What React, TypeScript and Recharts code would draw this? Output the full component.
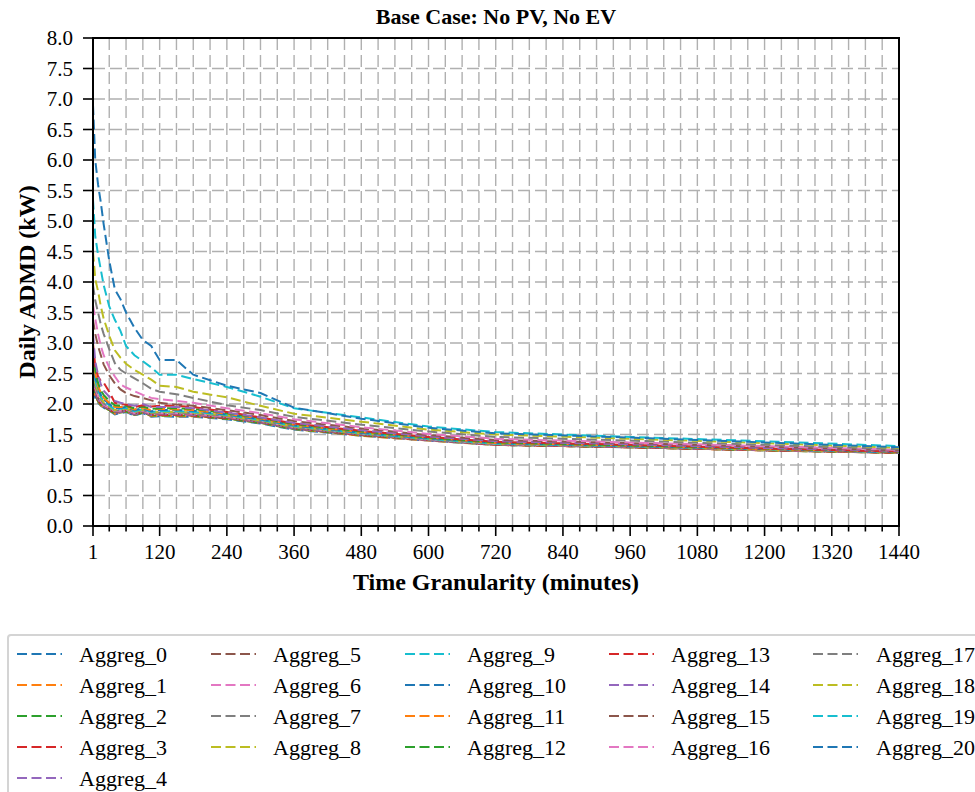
import React from "react";
import { LineChart, Line, XAxis, YAxis, CartesianGrid, ReferenceArea } from "recharts";

const minutes = [1, 5, 10, 15, 20, 30, 40, 50, 60, 75, 90, 105, 120, 150, 180, 240, 300, 360, 480, 600, 720, 960, 1200, 1440];

const aggreg0 = [2.25, 2.1, 2.02, 1.97, 1.94, 1.89, 1.83, 1.85, 1.87, 1.81, 1.85, 1.79, 1.8, 1.79, 1.79, 1.75, 1.68, 1.58, 1.48, 1.4, 1.33, 1.29, 1.24, 1.2];
const aggreg1 = [2.3, 2.12, 2.04, 1.98, 1.95, 1.9, 1.84, 1.86, 1.88, 1.82, 1.86, 1.8, 1.81, 1.8, 1.8, 1.76, 1.69, 1.59, 1.48, 1.4, 1.33, 1.29, 1.24, 1.2];
const aggreg2 = [2.34, 2.14, 2.05, 1.99, 1.95, 1.9, 1.85, 1.86, 1.88, 1.82, 1.86, 1.81, 1.81, 1.81, 1.81, 1.76, 1.69, 1.59, 1.49, 1.41, 1.33, 1.29, 1.24, 1.2];
const aggreg3 = [2.38, 2.17, 2.07, 2.0, 1.96, 1.91, 1.85, 1.87, 1.89, 1.83, 1.87, 1.82, 1.82, 1.82, 1.81, 1.77, 1.7, 1.6, 1.49, 1.41, 1.33, 1.29, 1.24, 1.2];
const aggreg4 = [2.42, 2.2, 2.08, 2.01, 1.97, 1.92, 1.86, 1.87, 1.89, 1.83, 1.87, 1.82, 1.83, 1.83, 1.82, 1.78, 1.7, 1.6, 1.5, 1.41, 1.34, 1.3, 1.25, 1.21];
const aggreg5 = [2.46, 2.22, 2.1, 2.03, 1.98, 1.93, 1.87, 1.88, 1.9, 1.84, 1.88, 1.83, 1.84, 1.84, 1.83, 1.78, 1.71, 1.61, 1.5, 1.42, 1.34, 1.3, 1.25, 1.21];
const aggreg6 = [2.5, 2.26, 2.13, 2.05, 1.99, 1.94, 1.88, 1.89, 1.91, 1.85, 1.89, 1.84, 1.85, 1.85, 1.84, 1.79, 1.72, 1.62, 1.51, 1.42, 1.34, 1.3, 1.25, 1.21];
const aggreg7 = [2.56, 2.3, 2.16, 2.07, 2.01, 1.95, 1.89, 1.9, 1.92, 1.86, 1.9, 1.85, 1.86, 1.86, 1.85, 1.8, 1.72, 1.62, 1.51, 1.42, 1.34, 1.3, 1.25, 1.21];
const aggreg8 = [2.62, 2.35, 2.2, 2.1, 2.03, 1.96, 1.9, 1.91, 1.93, 1.87, 1.91, 1.86, 1.87, 1.87, 1.86, 1.81, 1.73, 1.63, 1.52, 1.43, 1.35, 1.31, 1.25, 1.21];
const aggreg9 = [2.68, 2.4, 2.22, 2.12, 2.05, 1.98, 1.91, 1.92, 1.94, 1.88, 1.92, 1.87, 1.88, 1.88, 1.87, 1.82, 1.74, 1.64, 1.52, 1.43, 1.35, 1.31, 1.26, 1.21];
const aggreg10 = [2.75, 2.45, 2.28, 2.15, 2.08, 2.0, 1.93, 1.94, 1.95, 1.9, 1.93, 1.88, 1.9, 1.9, 1.89, 1.83, 1.75, 1.65, 1.53, 1.44, 1.36, 1.31, 1.26, 1.21];
const aggreg11 = [2.82, 2.5, 2.3, 2.18, 2.1, 2.02, 1.95, 1.95, 1.96, 1.91, 1.94, 1.9, 1.92, 1.91, 1.9, 1.84, 1.76, 1.66, 1.54, 1.45, 1.36, 1.32, 1.26, 1.22];
const aggreg12 = [2.9, 2.55, 2.35, 2.22, 2.15, 2.05, 1.98, 1.97, 1.97, 1.93, 1.96, 1.92, 1.93, 1.93, 1.92, 1.85, 1.77, 1.67, 1.55, 1.45, 1.37, 1.32, 1.27, 1.22];
const aggreg13 = [3.0, 2.62, 2.45, 2.38, 2.35, 2.2, 2.02, 2.0, 1.99, 1.95, 1.98, 1.96, 1.97, 1.97, 1.95, 1.87, 1.78, 1.68, 1.56, 1.46, 1.38, 1.33, 1.27, 1.22];
const aggreg14 = [3.15, 2.7, 2.48, 2.32, 2.22, 2.12, 2.05, 2.02, 2.0, 1.97, 2.0, 1.95, 1.95, 1.95, 1.93, 1.86, 1.78, 1.69, 1.57, 1.47, 1.39, 1.34, 1.28, 1.23];
const aggreg15 = [3.38, 3.15, 2.95, 2.8, 2.65, 2.47, 2.34, 2.24, 2.18, 2.13, 2.1, 2.06, 2.02, 1.99, 1.97, 1.9, 1.82, 1.72, 1.6, 1.49, 1.41, 1.36, 1.3, 1.24];
const aggreg16 = [3.62, 3.4, 3.15, 2.95, 2.8, 2.6, 2.45, 2.32, 2.27, 2.21, 2.15, 2.1, 2.08, 2.05, 2.02, 1.93, 1.85, 1.75, 1.62, 1.51, 1.43, 1.37, 1.31, 1.25];
const aggreg17 = [3.95, 3.7, 3.5, 3.3, 3.15, 2.9, 2.67, 2.56, 2.5, 2.42, 2.34, 2.25, 2.2, 2.16, 2.1, 1.98, 1.9, 1.79, 1.66, 1.55, 1.46, 1.4, 1.33, 1.26];
const aggreg18 = [4.5, 4.05, 3.85, 3.6, 3.4, 3.12, 2.88, 2.76, 2.66, 2.56, 2.48, 2.4, 2.3, 2.28, 2.2, 2.11, 1.97, 1.84, 1.71, 1.58, 1.5, 1.43, 1.36, 1.28];
const aggreg19 = [5.35, 4.75, 4.45, 4.2, 3.95, 3.6, 3.38, 3.2, 2.95, 2.8, 2.7, 2.6, 2.48, 2.48, 2.41, 2.28, 2.12, 1.93, 1.78, 1.63, 1.54, 1.46, 1.39, 1.31];
const aggreg20 = [6.9, 6.0, 5.6, 5.3, 4.95, 4.35, 3.88, 3.72, 3.5, 3.25, 3.05, 2.95, 2.72, 2.72, 2.48, 2.3, 2.18, 1.94, 1.76, 1.61, 1.52, 1.45, 1.37, 1.29];

const seriesValues = [
  aggreg0, aggreg1, aggreg2, aggreg3, aggreg4, aggreg5, aggreg6, aggreg7, aggreg8, aggreg9, aggreg10,
  aggreg11, aggreg12, aggreg13, aggreg14, aggreg15, aggreg16, aggreg17, aggreg18, aggreg19, aggreg20,
];
const seriesNames = seriesValues.map((_, i) => `Aggreg_${i}`);
const palette = ["#1f77b4", "#ff7f0e", "#2ca02c", "#d62728", "#9467bd", "#8c564b", "#e377c2", "#7f7f7f", "#bcbd22", "#17becf"];

const xMajorTicks = [1, 120, 240, 360, 480, 600, 720, 840, 960, 1080, 1200, 1320, 1440];
const xMinorStep = 30;
const yTicks = [0, 0.5, 1, 1.5, 2, 2.5, 3, 3.5, 4, 4.5, 5, 5.5, 6, 6.5, 7, 7.5, 8];

const titleText = "Base Case: No PV, No EV";
const xLabelText = "Time Granularity (minutes)";
const yLabelText = "Daily ADMD (kW)";

const FONT = "'Liberation Serif', 'Times New Roman', serif";
const LINE_DASH = "10 4.5";

const data = minutes.map((m, i) => {
  const row: Record<string, number> = { minute: m };
  seriesNames.forEach((n, k) => {
    row[n] = seriesValues[k][i];
  });
  return row;
});

const allXTicks: number[] = [1];
for (let v = xMinorStep; v <= 1440; v += xMinorStep) allXTicks.push(v);

const XTick = (props: any) => {
  const { x, y, payload } = props;
  const major = xMajorTicks.includes(payload.value);
  return (
    <g>
      <line x1={x} x2={x} y1={y} y2={y + (major ? 10 : 5.5)} stroke="#000" strokeWidth={1.6} />
      {major && (
        <text x={x} y={y + 33} textAnchor="middle" fontSize={21} fontFamily={FONT} fill="#000">
          {payload.value}
        </text>
      )}
    </g>
  );
};

const legendCols = [
  { sx: 17, tx: 79, items: [0, 1, 2, 3, 4] },
  { sx: 211, tx: 273, items: [5, 6, 7, 8] },
  { sx: 405, tx: 467, items: [9, 10, 11, 12] },
  { sx: 609, tx: 671, items: [13, 14, 15, 16] },
  { sx: 813, tx: 876, items: [17, 18, 19, 20] },
];

const LegendBox = () => (
  <div style={{ position: "absolute", left: 0, top: 0, width: 975, height: 792, pointerEvents: "none" }}>
    <div
      style={{
        position: "absolute",
        left: 7,
        top: 634,
        width: 990,
        height: 180,
        border: "2px solid #d4d4d4",
        borderRadius: 4,
        boxSizing: "border-box",
      }}
    />
    <svg width={975} height={792} style={{ position: "absolute", left: 0, top: 0 }}>
      {legendCols.map((col) =>
        col.items.map((idx, r) => {
          const cy = 654 + r * 31;
          return (
            <g key={idx}>
              <line
                x1={col.sx}
                x2={col.sx + 45}
                y1={cy}
                y2={cy}
                stroke={palette[idx % 10]}
                strokeWidth={2}
                strokeDasharray={LINE_DASH}
              />
              <text x={col.tx} y={cy + 7.5} fontSize={22} fontFamily={FONT} fill="#000">
                {seriesNames[idx]}
              </text>
            </g>
          );
        })
      )}
    </svg>
  </div>
);

export default function App() {
  return (
    <div style={{ position: "absolute", left: 0, top: 0, width: 975, height: 792, background: "#fff" }}>
      <LineChart
        width={975}
        height={792}
        data={data}
        margin={{ top: 38, right: 76, left: 0, bottom: 196 }}
      >
        <CartesianGrid stroke="#b0b0b0" strokeWidth={1.4} strokeDasharray="12 5" />
        <XAxis
          dataKey="minute"
          type="number"
          domain={[1, 1440]}
          ticks={allXTicks}
          interval={0}
          height={70}
          tickSize={0}
          tickMargin={0}
          tickLine={false}
          axisLine={{ stroke: "#000", strokeWidth: 2 }}
          tick={<XTick />}
          label={(p: any) => {
            const vb = p.viewBox;
            return (
              <text
                x={vb.x + vb.width / 2}
                y={590}
                textAnchor="middle"
                fontSize={24}
                fontWeight="bold"
                fontFamily={FONT}
                fill="#000"
              >
                {xLabelText}
              </text>
            );
          }}
        />
        <YAxis
          type="number"
          domain={[0, 8]}
          ticks={yTicks}
          interval={0}
          width={93}
          tickSize={10}
          tickMargin={10}
          tickLine={{ stroke: "#000", strokeWidth: 1.6 }}
          axisLine={{ stroke: "#000", strokeWidth: 2 }}
          tickFormatter={(v: number) => v.toFixed(1)}
          tick={{ fontSize: 21, fontFamily: FONT, fill: "#000" }}
          label={() => (
            <text
              x={27}
              y={282}
              transform="rotate(-90, 27, 282)"
              textAnchor="middle"
              dominantBaseline="central"
              fontSize={24}
              fontWeight="bold"
              fontFamily={FONT}
              fill="#000"
            >
              {yLabelText}
            </text>
          )}
        />
        {seriesNames.map((n, i) => (
          <Line
            key={n}
            dataKey={n}
            type="linear"
            stroke={palette[i % 10]}
            strokeWidth={2}
            strokeDasharray={LINE_DASH}
            dot={false}
            activeDot={false}
            isAnimationActive={false}
          />
        ))}
        <ReferenceArea x1={1} x2={1440} y1={0} y2={8} fill="none" fillOpacity={0} stroke="#000" strokeWidth={2} ifOverflow="visible" />
      </LineChart>
      <div
        style={{
          position: "absolute",
          left: 0,
          top: 4,
          width: 992,
          textAlign: "center",
          fontFamily: FONT,
          fontWeight: "bold",
          fontSize: 22,
          lineHeight: "26px",
          color: "#000",
        }}
      >
        {titleText}
      </div>
      <LegendBox />
    </div>
  );
}
